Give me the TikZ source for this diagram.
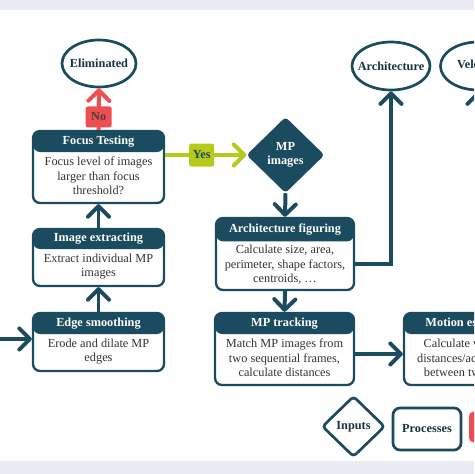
\documentclass[tikz,border=0pt]{standalone}
\usepackage{fontspec}
\setmainfont{Liberation Serif}
\usetikzlibrary{shapes.geometric,arrows.meta}
\definecolor{mpteal}{HTML}{1B4B5E}
\definecolor{mpred}{HTML}{EF4E50}
\definecolor{mpgreen}{HTML}{B5CB1B}
\definecolor{mpband}{HTML}{E9ECF5}
\begin{document}
\fontsize{10.5pt}{12.5pt}\selectfont
\begin{tikzpicture}[x=0.03cm, y=-0.03cm]
	\tikzset{
		procbox/.style={draw=mpteal, line width=2pt, rounded corners=6pt, fill=white, minimum width=3.93cm, minimum height=1.74cm,
			path picture={\fill[mpteal] (path picture bounding box.north west) rectangle ([yshift=-#1]path picture bounding box.north east);}},
		procbox/.default=0.63cm,
		headtext/.style={text=white, font=\bfseries, inner sep=0pt},
		bodytext/.style={align=center, text=black!80, inner sep=0pt},
		outbox/.style={ellipse, draw=mpteal, line width=2.3pt, fill=white, inner sep=0pt, font=\bfseries, text=mpteal!70!black},
		inbox/.style={diamond, rounded corners=3pt, inner sep=1pt, align=center, font=\bfseries},
		flowarrow/.style={draw=mpteal, line width=3.4pt, -{Straight Barb[round, length=9pt, width=18pt]}},
		labelbox/.style={rounded corners=2pt, font=\bfseries, text=black!75, inner sep=0pt}
	}
	\useasboundingbox (0,0) rectangle (474,474);
	\clip (0,0) rectangle (474,474);
	\fill[mpband] (0,0) rectangle (474,9.5);
	\fill[mpband] (0,461) rectangle (474,474);

	\node[outbox, minimum width=2.22cm, minimum height=1.41cm] (elim) at (99,63.5) {\makebox[0pt]{Eliminated}};
	\node[outbox, minimum width=2.34cm, minimum height=1.44cm] (archi) at (391,66) {\makebox[0pt]{Architecture}};
	\node[outbox, minimum width=2.25cm, minimum height=1.44cm] (velo) at (478,66) {\makebox[0pt]{Velocity}};

	\node[procbox, minimum height=2.16cm] (focus) at (98.5,167) {};
	\node[headtext] (focushead) at (98.5,141.5) {Focus Testing};
	\node[bodytext] (focusbody) at (98.5,176) {Focus level of images\\larger than focus\\threshold?};

	\node[procbox=0.6cm, minimum height=1.71cm] (imgext) at (98.5,257.5) {};
	\node[headtext] (imgexthead) at (98.5,239) {Image extracting};
	\node[bodytext] (imgextbody) at (98.5,266.5) {Extract individual MP\\images};

	\node[procbox] (edge) at (98.5,342) {};
	\node[headtext] (edgehead) at (98.5,323.5) {Edge smoothing};
	\node[bodytext] (edgebody) at (98.5,351.5) {Erode and dilate MP\\edges};

	\node[inbox, fill=mpteal, text=white, minimum width=2.34cm, minimum height=2.28cm] (mpimg) at (285.5,155) {MP\\images};

	\node[procbox=0.7cm, minimum width=4.14cm, minimum height=2.16cm] (archfig) at (285,254) {};
	\node[headtext] (archfighead) at (285,229.5) {Architecture figuring};
	\node[bodytext] (archfigbody) at (285,265) {Calculate size, area,\\perimeter, shape factors,\\centroids, \dots};

	\node[procbox, minimum width=4.17cm, minimum height=2.16cm] (mptrack) at (284.5,349) {};
	\node[headtext] (mptrackhead) at (284.5,323.5) {MP tracking};
	\node[bodytext] (mptrackbody) at (284.5,358) {Match MP images from\\two sequential frames,\\calculate distances};

	\node[procbox, minimum width=4.17cm, minimum height=2.16cm] (motion) at (473.5,349) {};
	\node[headtext] (motionhead) at (473.5,323.5) {Motion estimating};
	\node[bodytext] (motionbody) at (473.5,358) {Calculate velocities,\\distances/accelerations\\between two frames};

	\node[inbox, draw=mpteal, line width=2.3pt, fill=white, text=mpteal!70!black, minimum width=1.89cm, minimum height=1.83cm] (leginput) at (353.5,426.5) {Inputs};
	\node[draw=mpteal, line width=2.3pt, rounded corners=6pt, fill=white, font=\bfseries, text=mpteal!70!black, minimum width=2.04cm, minimum height=1.26cm] (legproc) at (427,429) {Processes};
	\node[fill=mpred, rounded corners=4pt, minimum width=1.8cm, minimum height=0.93cm] (legdec) at (499,427) {};

	\coordinate (entry) at (-10,339);
	\draw[flowarrow] (entry) -- (entry -| edge.west);
	\draw[flowarrow] (edge.north) -- (imgext.south);
	\draw[flowarrow] (imgext.north) -- (focus.south);
	\draw[flowarrow, draw=mpred] (focus.north) -- node[labelbox, fill=mpred, pos=0.31, minimum width=0.78cm, minimum height=0.63cm] (no) {No} (elim.south);
	\draw[flowarrow, draw=mpgreen] (focus.east |- mpimg) -- node[labelbox, fill=mpgreen, pos=0.45, text=mpteal, minimum width=0.75cm, minimum height=0.69cm] (yes) {Yes} (mpimg.west);
	\draw[flowarrow] (mpimg.south) -- (archfig.north);
	\draw[flowarrow] (archfig.south) -- (mptrack.north);
	\draw[flowarrow] ([yshift=-0.3cm]archfig.east) -| (archi.south);
	\draw[flowarrow] ([yshift=-0.15cm]mptrack.east) -- ([yshift=-0.15cm]motion.west);
	\draw[flowarrow] (velo.south |- motion.north) -- (velo.south);
\end{tikzpicture}
\end{document}
